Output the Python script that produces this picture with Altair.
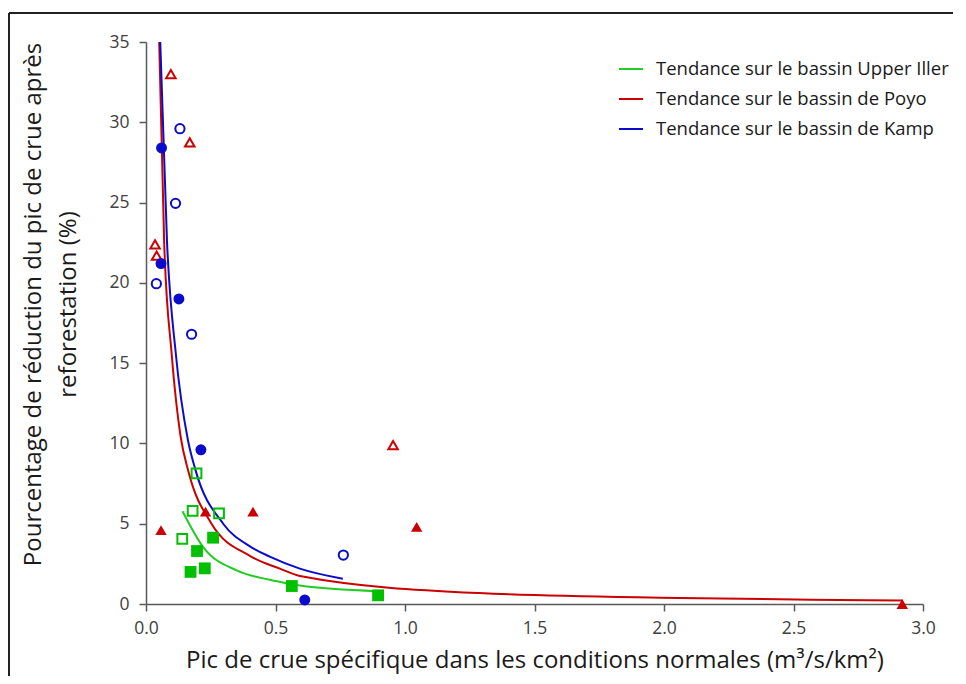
import altair as alt
import pandas as pd

# ---- data ----
poyo_open_x = [0.096, 0.169, 0.035, 0.041, 0.954]
poyo_open_y = [33.0, 28.75, 22.4, 21.7, 9.9]
poyo_fill_x = [0.058, 0.230, 0.413, 1.045, 2.920]
poyo_fill_y = [4.6, 5.75, 5.75, 4.8, 0.0]

kamp_open_x = [0.131, 0.114, 0.040, 0.176, 0.762]
kamp_open_y = [29.6, 24.95, 19.95, 16.8, 3.05]
kamp_fill_x = [0.060, 0.058, 0.127, 0.212, 0.613]
kamp_fill_y = [28.4, 21.2, 19.0, 9.6, 0.25]

iller_open_x = [0.195, 0.180, 0.282, 0.140]
iller_open_y = [8.13, 5.8, 5.65, 4.06]
iller_fill_x = [0.259, 0.197, 0.172, 0.227, 0.563, 0.896]
iller_fill_y = [4.13, 3.3, 2.0, 2.22, 1.12, 0.54]

# trend curves, points
poyo_trend_x = [0.051, 0.070, 0.099, 0.134, 0.163, 0.253, 0.401, 0.517, 0.594, 1.286, 2.055, 2.567, 2.920]
poyo_trend_y = [35.0, 22.6, 15.6, 10.4, 8.3, 5.0, 3.0, 2.2, 1.75, 0.68, 0.38, 0.27, 0.22]
kamp_trend_x = [0.055, 0.081, 0.115, 0.162, 0.190, 0.298, 0.400, 0.478, 0.594, 0.760]
kamp_trend_y = [35.0, 22.6, 15.6, 10.2, 8.4, 5.0, 3.6, 2.95, 2.2, 1.57]
iller_trend_x = [0.141, 0.221, 0.350, 0.478, 0.555, 0.594, 0.893]
iller_trend_y = [5.78, 3.54, 2.09, 1.51, 1.26, 1.15, 0.80]

trend_names = ["Tendance sur le bassin Upper Iller",
               "Tendance sur le bassin de Poyo",
               "Tendance sur le bassin de Kamp"]

x_ticks = [0, 0.5, 1, 1.5, 2, 2.5, 3]
y_ticks = [0, 5, 10, 15, 20, 25, 30, 35]

RED = "#CC0000"
BLUE = "#0B0BCC"
GREEN = "#00C000"
GREEN_LINE = "#22CC22"

def pts(xs, ys):
    return pd.DataFrame({"x": xs, "y": ys})

trend_df = pd.concat([
    pd.DataFrame({"x": iller_trend_x, "y": iller_trend_y, "trend": trend_names[0], "o": range(len(iller_trend_x))}),
    pd.DataFrame({"x": poyo_trend_x, "y": poyo_trend_y, "trend": trend_names[1], "o": range(len(poyo_trend_x))}),
    pd.DataFrame({"x": kamp_trend_x, "y": kamp_trend_y, "trend": trend_names[2], "o": range(len(kamp_trend_x))}),
])

xscale = alt.Scale(domain=[0, 3], nice=False, zero=False)
yscale = alt.Scale(domain=[0, 35], nice=False, zero=False)

X = alt.X("x:Q", scale=xscale,
          axis=alt.Axis(title="Pic de crue spécifique dans les conditions normales (m³/s/km²)",
                        values=x_ticks, format=".1f"))
Y = alt.Y("y:Q", scale=yscale,
          axis=alt.Axis(title=["Pourcentage de réduction du pic de crue après", "reforestation (%)"],
                        values=y_ticks, titleY=262))

lines = alt.Chart(trend_df).mark_line(strokeWidth=2, clip=True, interpolate="monotone").encode(
    x=X, y=Y, order="o:Q",
    color=alt.Color("trend:N",
                    scale=alt.Scale(domain=trend_names, range=[GREEN_LINE, RED, BLUE]),
                    legend=alt.Legend(title=None, orient="none", legendX=472, legendY=14,
                                      symbolType="stroke", symbolSize=576, symbolStrokeWidth=2,
                                      labelFontSize=18.5, labelFont="Open Sans", labelColor="#1a1a1a",
                                      labelOffset=12, rowPadding=7, padding=0,
                                      labelLimit=400))
)

def layer_pts(df, shape, filled, color, size, sw=2):
    return alt.Chart(df).mark_point(shape=shape, filled=filled, size=size,
                                    strokeWidth=sw if not filled else 0,
                                    opacity=1, color=color).encode(x=X, y=Y)

layers = [
    layer_pts(pts(iller_open_x, iller_open_y), "square", False, GREEN, 95),
    layer_pts(pts(iller_fill_x, iller_fill_y), "square", True, GREEN, 140),
    layer_pts(pts(poyo_open_x, poyo_open_y), "triangle-up", False, RED, 90),
    layer_pts(pts(poyo_fill_x, poyo_fill_y), "triangle-up", True, RED, 130),
    layer_pts(pts(kamp_open_x, kamp_open_y), "circle", False, BLUE, 85),
    layer_pts(pts(kamp_fill_x, kamp_fill_y), "circle", True, BLUE, 120),
]

frame_top = alt.Chart(pd.DataFrame({"k": [0]})).mark_rule(color="#222", strokeWidth=2).encode(
    x=alt.value(-137), x2=alt.value(850), y=alt.value(-29))
frame_left = alt.Chart(pd.DataFrame({"k": [0]})).mark_rule(color="#222", strokeWidth=2).encode(
    x=alt.value(-137), y=alt.value(-29), y2=alt.value(650))

chart = alt.layer(lines, *layers, frame_top, frame_left).properties(
    width=777, height=562,
    padding={"left": 138, "top": 34, "right": 30, "bottom": 72},
    autosize=alt.AutoSizeParams(type="none"),
    background="white",
).configure_view(stroke=None).configure_axis(
    grid=False, labelFlush=False,
    domainColor="#5a5a5a", tickColor="#5a5a5a", domainWidth=1.5, tickWidth=1.5,
    tickSize=7, labelFont="Open Sans", labelFontSize=17.5, labelColor="#404040",
    titleFont="Open Sans", titleFontSize=24, titleFontWeight="normal", titleColor="#1a1a1a",
).configure_axisY(
    labelPadding=10, titlePadding=28, titleLineHeight=35
).configure_axisX(
    labelPadding=8, titlePadding=12
)

chart.save("out.html", embed_options={"renderer": "svg", "actions": False})
